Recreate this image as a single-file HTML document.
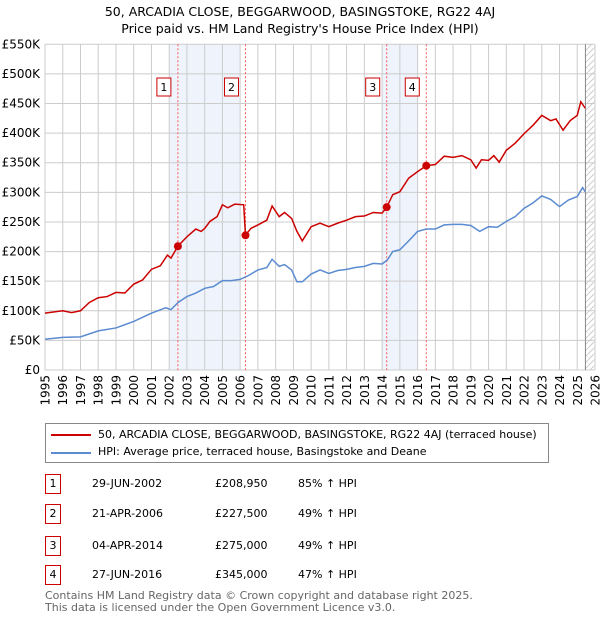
<!DOCTYPE html>
<html><head><meta charset="utf-8">
<style>
body{margin:0;background:#fff;font-family:"DejaVu Sans","Liberation Sans",sans-serif;}
#wrap{position:relative;width:600px;height:620px;overflow:hidden;}
.t{position:absolute;font-size:11px;color:#000;white-space:nowrap;}
.nb{position:absolute;width:14px;height:18px;border:1px solid #c00;font-size:11px;text-align:center;line-height:18px;}
</style></head><body>
<div id="wrap">
<div class="t" style="left:0;width:600px;text-align:center;top:4px;font-size:12.5px;">50, ARCADIA CLOSE, BEGGARWOOD, BASINGSTOKE, RG22 4AJ</div>
<div class="t" style="left:0;width:600px;text-align:center;top:21px;font-size:12.5px;">Price paid vs. HM Land Registry's House Price Index (HPI)</div>
<svg id="chart" width="600" height="420" style="position:absolute;left:0;top:0;font-family:'DejaVu Sans','Liberation Sans',sans-serif;">
<defs><pattern id="hatch" width="6" height="6" patternUnits="userSpaceOnUse"><path d="M0,6 L6,0" stroke="#ccc" stroke-width="1"/></pattern></defs>
</svg>
<div style="position:absolute;left:45px;top:423px;width:502px;height:38px;border:1px solid #888;">
<div><div style="position:absolute;left:5px;top:10px;width:40px;height:2px;background:#c00"></div><div class="t" style="left:52px;top:4px;">50, ARCADIA CLOSE, BEGGARWOOD, BASINGSTOKE, RG22 4AJ (terraced house)</div></div>
<div><div style="position:absolute;left:5px;top:28px;width:40px;height:2px;background:#5b8bd0"></div><div class="t" style="left:52px;top:21px;">HPI: Average price, terraced house, Basingstoke and Deane</div></div>
</div>
<div id="tbl"></div>
<div class="t" style="left:45px;top:589px;color:#666;font-size:11px;">Contains HM Land Registry data © Crown copyright and database right 2025.</div>
<div class="t" style="left:45px;top:601px;color:#666;font-size:11px;">This data is licensed under the Open Government Licence v3.0.</div>
</div>
<script>
const hpiYears=[1995,1996,1997,1998,1999,2000,2001,2001.8,2002.1,2002.5,2003,2003.5,2004,2004.5,2005,2005.5,2006,2006.5,2007,2007.5,2007.8,2008.2,2008.5,2008.9,2009.2,2009.5,2010,2010.5,2011,2011.5,2012,2012.5,2013,2013.5,2014,2014.3,2014.6,2015,2015.5,2016,2016.5,2017,2017.5,2018,2018.5,2019,2019.5,2020,2020.5,2021,2021.5,2022,2022.5,2023,2023.5,2024,2024.5,2025,2025.3,2025.45];
const hpiValues=[52,55,56,66,71,82,96,105,102,114,124,130,138,141,151,151,153,160,169,173,187,175,178,169,149,149,162,169,163,168,170,173,175,180,179,186,200,203,218,234,238,238,245,246,246,244,234,242,241,251,259,273,282,294,288,276,287,293,308,301];
const propYears=[1995,1996,1996.5,1997,1997.5,1998,1998.5,1999,1999.5,2000,2000.5,2001,2001.5,2001.9,2002.1,2002.49,2003,2003.5,2003.8,2004,2004.3,2004.7,2005,2005.3,2005.7,2006.2,2006.3,2006.6,2007,2007.5,2007.8,2008.2,2008.5,2008.9,2009.2,2009.5,2010,2010.5,2011,2011.5,2012,2012.5,2013,2013.5,2014,2014.26,2014.6,2015,2015.5,2016,2016.49,2017,2017.5,2018,2018.5,2019,2019.3,2019.6,2020,2020.3,2020.6,2021,2021.5,2022,2022.5,2023,2023.5,2023.8,2024.2,2024.6,2025,2025.2,2025.45];
const propValues=[96,100,97,100,114,122,124,131,130,145,152,170,176,194,189,208.95,225,238,234,239,251,259,279,274,280,279,227.5,239,245,253,277,259,266,256,234,218,242,248,242,248,253,259,260,266,265,275,296,301,324,335,345,347,361,359,362,355,341,355,354,362,351,371,383,399,413,430,421,424,405,421,430,453,442];
const saleYears=[2002.49,2006.3,2014.26,2016.49];
const saleValues=[208.95,227.5,275,345];
const saleLabels=["1","2","3","4"];
const saleDates=["29-JUN-2002","21-APR-2006","04-APR-2014","27-JUN-2016"];
const salePrices=["£208,950","£227,500","£275,000","£345,000"];
const saleHpi=["85% ↑ HPI","49% ↑ HPI","49% ↑ HPI","47% ↑ HPI"];
const shadeRanges=[[2002,2006],[2014,2016]];
const yTicks=[0,50,100,150,200,250,300,350,400,450,500,550];
const yTickLabels=["£0","£50K","£100K","£150K","£200K","£250K","£300K","£350K","£400K","£450K","£500K","£550K"];
const xTicks=[];for(let y=1995;y<=2026;y++)xTicks.push(y);
const forecastStart=2025.46;

const X0=45,X1=595,Y0=370,Y1=44.3;
const xs=v=>X0+(v-1995)/(2026-1995)*(X1-X0);
const ys=v=>Y0-v/550*(Y0-Y1);
const svg=document.getElementById('chart');
const NS='http://www.w3.org/2000/svg';
function mk(tag,attrs){const e=document.createElementNS(NS,tag);for(const k in attrs)e.setAttribute(k,attrs[k]);svg.appendChild(e);return e;}
shadeRanges.forEach(r=>{const e=mk('rect',{x:xs(r[0]),y:Y1,width:xs(r[1])-xs(r[0]),height:Y0-Y1,fill:'#eef3fc'});

});
const hz=mk('rect',{x:xs(forecastStart),y:Y1,width:X1-xs(forecastStart),height:Y0-Y1,fill:'url(#hatch)'});


yTicks.forEach((v,i)=>{const l=mk('line',{x1:X0,x2:X1,y1:ys(v),y2:ys(v),stroke:'#ccc','stroke-width':1});


const t=mk('text',{x:40,y:ys(v)+4,'text-anchor':'end','font-size':12});t.textContent=yTickLabels[i];

});
xTicks.forEach(v=>{const l=mk('line',{x1:xs(v),x2:xs(v),y1:Y1,y2:Y0,stroke:'#ccc','stroke-width':1});


const tx=xs(v)+4.5,ty=375;
const t=mk('text',{x:tx,y:ty,'text-anchor':'end','font-size':12,transform:`rotate(-90 ${tx} ${ty})`});t.textContent=v;

});
const fl=mk('line',{x1:xs(forecastStart),x2:xs(forecastStart),y1:Y1,y2:Y0,stroke:'#888','stroke-width':1});


saleYears.forEach((v,i)=>{const l=mk('line',{x1:xs(v),x2:xs(v),y1:Y1,y2:Y0,stroke:'#f55','stroke-width':1,'stroke-dasharray':'2,2'});


const r=mk('rect',{x:xs(v)-21,y:78,width:14,height:18,fill:'#fff',stroke:'#c00'});


const t=mk('text',{x:xs(v)-14,y:91,'text-anchor':'middle','font-size':11});t.textContent=saleLabels[i];

});
const hp=mk('polyline',{points:hpiYears.map((y,i)=>xs(y)+','+ys(hpiValues[i])).join(' '),fill:'none',stroke:'#5b8bd0','stroke-width':1.5});


const pp=mk('polyline',{points:propYears.map((y,i)=>xs(y)+','+ys(propValues[i])).join(' '),fill:'none',stroke:'#c00','stroke-width':1.5});


saleYears.forEach((v,i)=>{const c=mk('circle',{cx:xs(v),cy:ys(saleValues[i]),r:4,fill:'#c00'});

});
const tbl=document.getElementById('tbl');
const rowY=[474,504,536,565];
saleLabels.forEach((s,i)=>{const row=document.createElement('div');


row.innerHTML=`<div class="nb" style="left:45px;top:${rowY[i]}px">${s}</div><div class="t" style="left:92px;top:${rowY[i]+3}px">${saleDates[i]}</div><div class="t" style="left:215px;top:${rowY[i]+3}px">${salePrices[i]}</div><div class="t" style="left:298px;top:${rowY[i]+3}px">${saleHpi[i]}</div>`;
tbl.appendChild(row);});
</script>
</body></html>
